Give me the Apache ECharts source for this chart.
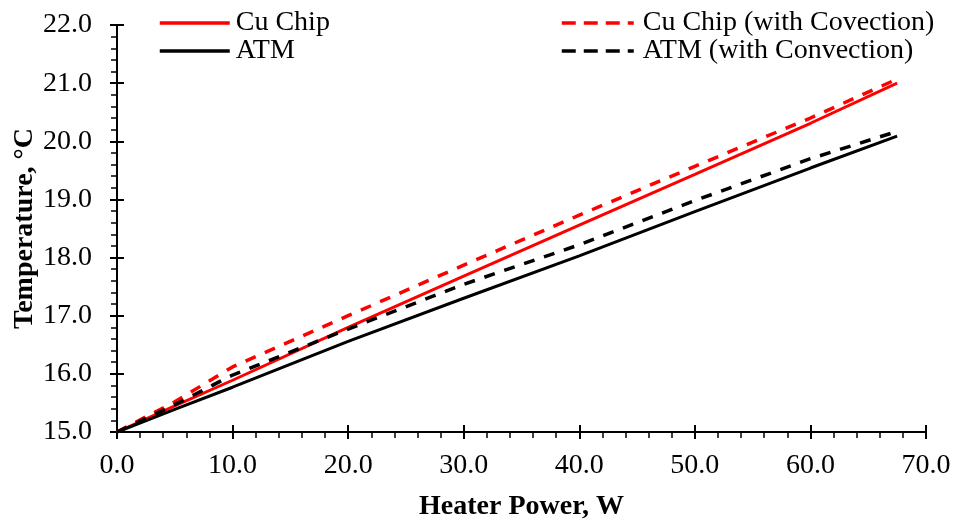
<!DOCTYPE html>
<html>
<head>
<meta charset="utf-8">
<script src="https://cdn.jsdelivr.net/npm/echarts@6/dist/echarts.min.js"></script>
<style>html,body{margin:0;padding:0;background:#fff}#c{width:955px;height:523px}</style>
</head>
<body>
<div id="c"></div>
<script>
var power = [0, 5, 10, 20, 30, 40, 50, 60, 67.5];
var cuChip = [15.0, 15.45, 15.89, 16.80, 17.68, 18.56, 19.43, 20.31, 21.00];
var cuChipConv = [15.0, 15.52, 16.12, 17.00, 17.87, 18.73, 19.57, 20.40, 21.07];
var atm = [15.0, 15.39, 15.77, 16.56, 17.30, 18.03, 18.79, 19.54, 20.09];
var atmConv = [15.0, 15.47, 15.98, 16.77, 17.54, 18.22, 18.98, 19.70, 20.17];
var xTicks = [0, 10, 20, 30, 40, 50, 60, 70];
var yTicks = [15, 16, 17, 18, 19, 20, 21, 22];
var names = ['Cu Chip', 'ATM', 'Cu Chip (with Covection)', 'ATM (with Convection)'];

function pairs(xs, ys) { return xs.map(function (x, i) { return [x, ys[i]]; }); }

var FONT = '"Liberation Serif", "Times New Roman", serif';
var gridRect = { left: 117, right: 29, top: 25, bottom: 91, containLabel: false, outerBoundsMode: 'none' };
var lbl = { fontFamily: FONT, fontSize: 28, color: '#000' };

function mkSeries(name, data, color, dashed) {
  return {
    name: name, type: 'line', data: data, symbol: 'none', showSymbol: false,
    xAxisIndex: 0, yAxisIndex: 0, silent: true, animation: false,
    lineStyle: { color: color, width: dashed ? 3.5 : 3, type: dashed ? [11, 10] : 'solid' },
    itemStyle: { color: color }
  };
}

var chart = echarts.init(document.getElementById('c'));
chart.setOption({
  animation: false,
  backgroundColor: '#fff',
  grid: [Object.assign({}, gridRect), Object.assign({}, gridRect)],
  legend: [
    { left: 153, top: 4, orient: 'vertical', itemWidth: 70, itemHeight: 14, itemGap: 0,
      data: [names[0], names[1]], itemStyle: { opacity: 0 }, lineStyle: { width: 3.5 },
      textStyle: { fontFamily: FONT, fontSize: 28, color: '#000', lineHeight: 28, padding: [0, 0, 0, 1] } },
    { left: 555, top: 4, orient: 'vertical', itemWidth: 72, itemHeight: 14, itemGap: 0,
      data: [names[2], names[3]], itemStyle: { opacity: 0 }, lineStyle: { width: 3.5, type: [14, 8] },
      textStyle: { fontFamily: FONT, fontSize: 28, color: '#000', lineHeight: 28, padding: [0, 0, 0, 4] } }
  ],
  xAxis: [
    { type: 'value', gridIndex: 0, min: xTicks[0], max: xTicks[xTicks.length - 1], interval: 10,
      name: 'Heater Power, W', nameLocation: 'middle', nameGap: 61, nameMoveOverlap: false,
      nameTextStyle: { fontFamily: FONT, fontSize: 28, fontWeight: 'bold', color: '#000' },
      axisLine: { lineStyle: { color: '#000', width: 2 } },
      axisTick: { inside: false, length: 7, lineStyle: { color: '#000', width: 2 } },
      minorTick: { show: true, splitNumber: 5, length: 6, lineStyle: { color: '#000', width: 1.5 } },
      splitLine: { show: false }, minorSplitLine: { show: false },
      axisLabel: Object.assign({ margin: 20, formatter: function (v) { return v.toFixed(1); } }, lbl) },
    { type: 'value', gridIndex: 1, min: xTicks[0], max: xTicks[xTicks.length - 1], interval: 10,
      axisLine: { show: false }, axisLabel: { show: false }, splitLine: { show: false },
      axisTick: { inside: true, length: 7, lineStyle: { color: '#000', width: 2 } } }
  ],
  yAxis: [
    { type: 'value', gridIndex: 0, min: yTicks[0], max: yTicks[yTicks.length - 1], interval: 1,
      name: 'Temperature, °C', nameLocation: 'middle', nameGap: 78, nameMoveOverlap: false,
      nameTextStyle: { fontFamily: FONT, fontSize: 28, fontWeight: 'bold', color: '#000' },
      axisLine: { show: true, lineStyle: { color: '#000', width: 2 } },
      axisTick: { show: true, inside: false, length: 7, lineStyle: { color: '#000', width: 2 } },
      minorTick: { show: true, splitNumber: 5, length: 6, lineStyle: { color: '#000', width: 1.5 } },
      splitLine: { show: false }, minorSplitLine: { show: false },
      axisLabel: Object.assign({ margin: 25, formatter: function (v) { return v.toFixed(1); } }, lbl) },
    { type: 'value', gridIndex: 1, min: yTicks[0], max: yTicks[yTicks.length - 1], interval: 1,
      axisLine: { show: false }, axisLabel: { show: false }, splitLine: { show: false },
      axisTick: { show: true, inside: true, length: 7, lineStyle: { color: '#000', width: 2 } } }
  ],
  series: [
    mkSeries(names[0], pairs(power, cuChip), '#ff0000', false),
    mkSeries(names[1], pairs(power, atm), '#000000', false),
    mkSeries(names[2], pairs(power, cuChipConv), '#ff0000', true),
    mkSeries(names[3], pairs(power, atmConv), '#000000', true)
  ]
});
</script>
</body>
</html>
